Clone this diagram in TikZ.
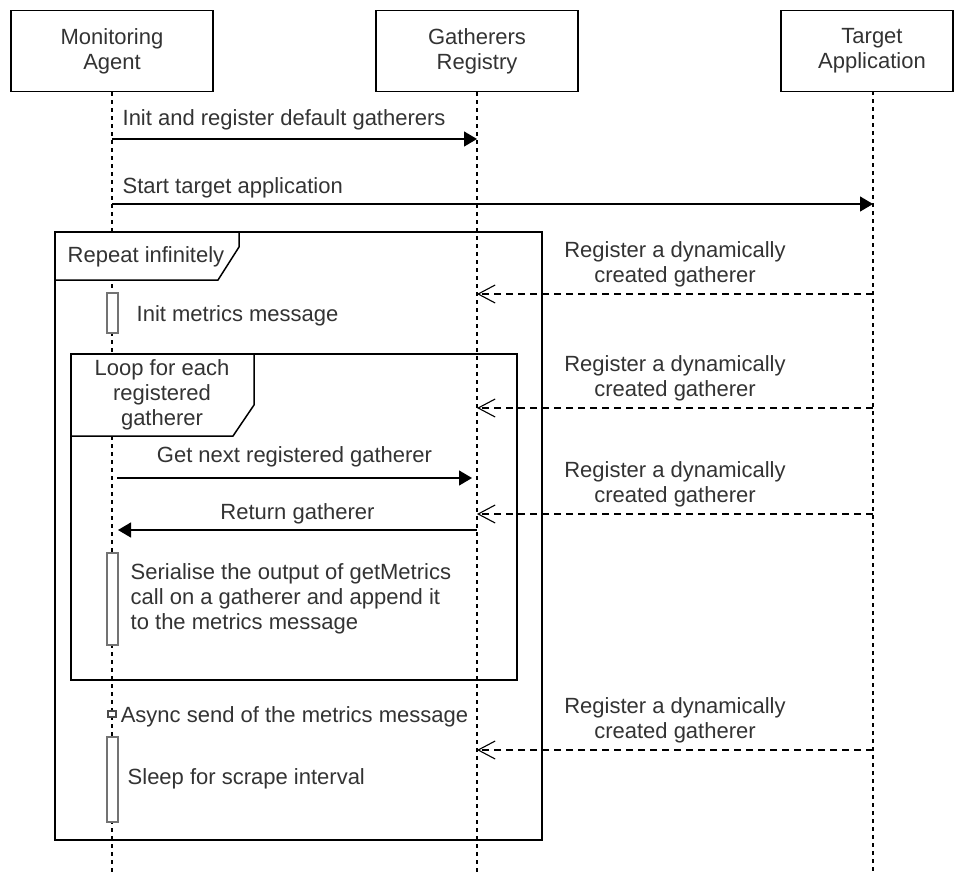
\documentclass[tikz,border=0pt]{standalone}
\usepackage{fontspec}
\setmainfont{Liberation Sans}
\usetikzlibrary{arrows.meta,positioning,calc}

\begin{document}
\begin{tikzpicture}[x=1pt, y=-1pt, >=Stealth,
  font=\fontsize{22}{25}\selectfont,
  every node/.style={text=black!80, align=center, inner sep=0pt},
  actor/.style={draw=black, line width=1.5pt, minimum width=202pt, minimum height=81pt},
  life/.style={line width=1.2pt, dash pattern=on 4pt off 4pt},
  call/.style={-{Triangle[length=13pt,width=15pt]}, line width=1.3pt},
  reply/.style={-{Straight Barb[length=17pt,width=18pt]}, line width=1.1pt, dash pattern=on 7pt off 5pt},
  actbar/.style={draw=black!55, line width=2pt, fill=white, minimum width=11pt},
  frame/.style={draw=black, line width=1.5pt},
  tab/.style={draw=black, line width=1.5pt, fill=white}
]
  \useasboundingbox (0,0) rectangle (956,873);

  % Participants
  \node[actor] (agent) at (112,51) {Monitoring\\Agent};
  \node[actor] (registry) at (477,51) {Gatherers\\Registry};
  \node[actor, minimum width=172pt] (target) at (867,51) {\hspace*{10pt}Target\\\hspace*{10pt}Application};

  % Lifelines
  \coordinate (tl) at (873,91);
  \coordinate (ab) at (112,873);
  \coordinate (rb) at (477,873);
  \coordinate (tb) at (873,873);
  \draw[life] (agent.south) -- (ab);
  \draw[life] (registry.south) -- (rb);
  \draw[life] (tl) -- (tb);

  % Frames
  \draw[frame] (55,232) rectangle (542,840);
  \draw[tab] (55,232) -- (239,232) -- (239,247) -- (218,280) -- (55,280) -- cycle;
  \node (repeat) at (146,257) {Repeat infinitely};
  \draw[frame] (71,354) rectangle (517,680);
  \draw[tab] (71,354) -- (254,354) -- (254,405) -- (233,436) -- (71,436) -- cycle;
  \node (loop) at (162,395) {Loop for each\\registered\\gatherer};

  % Messages
  \coordinate (a1) at (112,139);
  \coordinate (r1) at (477,139);
  \draw[call] (a1) -- (r1) node[pos=0, anchor=south west, xshift=10pt, yshift=8pt] {Init and register default gatherers};
  \coordinate (a2) at (112,204);
  \coordinate (t2) at (873,204);
  \draw[call] (a2) -- (t2) node[pos=0, anchor=south west, xshift=10pt, yshift=5pt] {Start target application};
  \coordinate (a3) at (117,478);
  \coordinate (r3) at (472,478);
  \draw[call] (a3) -- (r3) node[midway, above=10pt] {Get next registered gatherer};
  \coordinate (r4) at (477,530);
  \coordinate (a4) at (118,530);
  \draw[call] (r4) -- (a4) node[midway, above=5pt] {Return gatherer};

  % Registrations from the target
  \foreach \y [count=\i] in {294,408,514,750} {
    \coordinate (t\i) at (873,\y);
    \coordinate (g\i) at (477,\y);
    \draw[reply] (t\i) -- (g\i) node[midway, above=6pt] {Register a dynamically\\created gatherer};
  }

  % Activations
  \node[actbar, minimum height=40pt] (init) at (112,313) {};
  \node[right=18pt of init, yshift=-3pt] (initlbl) {Init metrics message};
  \node[actbar, minimum height=92pt] (serial) at (112,599) {};
  \node[right=12pt of serial, align=left] (seriallbl) {Serialise the output of getMetrics\\call on a gatherer and append it\\to the metrics message};
  \node[actbar, minimum width=8pt, minimum height=6pt, line width=1.2pt, draw=black!70] (async) at (112,714) {};
  \node[right=4pt of async, yshift=-3pt] (asynclbl) {Async send of the metrics message};
  \node[actbar, minimum height=85pt] (sleep) at (112,779) {};
  \node[right=9pt of sleep] (sleeplbl) {Sleep for scrape interval};
\end{tikzpicture}
\end{document}
